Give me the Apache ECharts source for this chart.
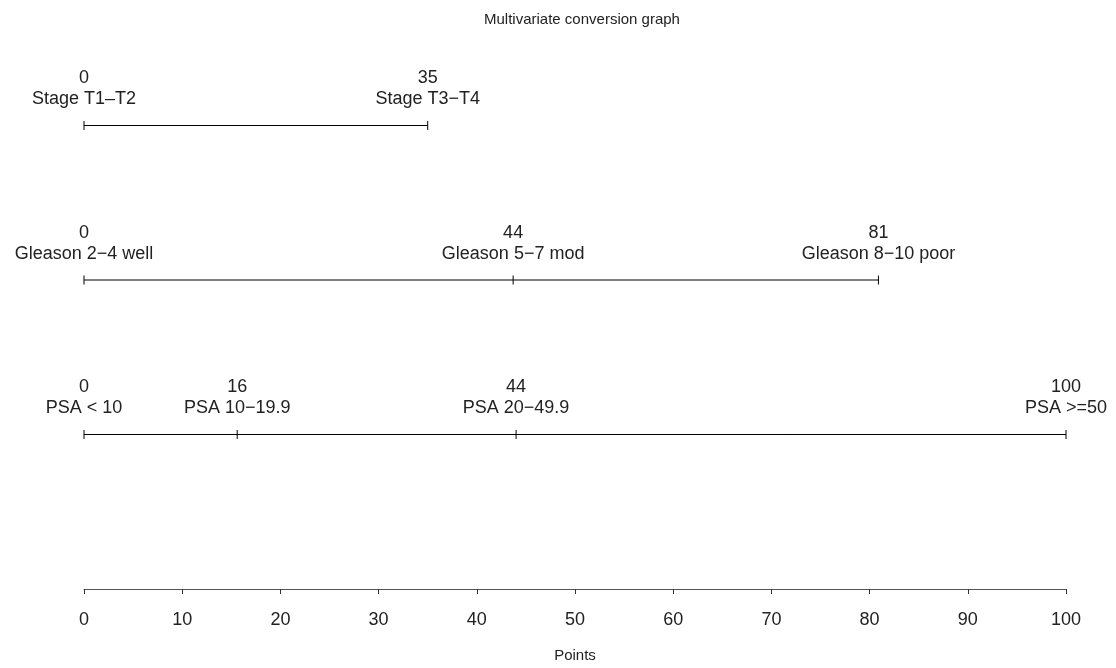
<!DOCTYPE html>
<html>
<head>
<meta charset="utf-8">
<script src="https://cdn.jsdelivr.net/npm/echarts@6/dist/echarts.min.js"></script>
<style>html,body{margin:0;padding:0;background:#fff}#c{width:1116px;height:668px}</style>
</head>
<body>
<div id="c"></div>
<script>
// Row data: tick positions on the points scale, printed point labels, category names
const stagePos = [0, 35];
const stagePoints = ['0', '35'];
const stageNames = ['Stage T1\u2013T2', 'Stage T3\u2212T4'];

const gleasonPos = [0, 43.7, 80.9];
const gleasonPoints = ['0', '44', '81'];
const gleasonNames = ['Gleason 2\u22124 well', 'Gleason 5\u22127 mod', 'Gleason 8\u221210 poor'];

const psaPos = [0, 15.6, 44, 100];
const psaPoints = ['0', '16', '44', '100'];
const psaNames = ['PSA < 10', 'PSA 10\u221219.9', 'PSA 20\u221249.9', 'PSA >=50'];

const rowLevels = [3, 2, 1];
const pointsTicks = [0, 10, 20, 30, 40, 50, 60, 70, 80, 90, 100];

const FONT = 'Liberation Sans, Arial, Helvetica, sans-serif';
const FS = 18;

function rowSeries(pos, pts, names, level) {
  return {
    type: 'line',
    data: pos.map((p, i) => ({ value: [p, level], pt: pts[i], nm: names[i] })),
    showAllSymbol: true,
    symbol: 'rect',
    symbolSize: [1, 9],
    itemStyle: { color: '#000' },
    lineStyle: { color: '#000', width: 1 },
    clip: false,
    animation: false,
    label: {
      show: true,
      position: 'top',
      distance: 11,
      color: '#222',
      fontFamily: FONT,
      formatter: p => '{v|' + p.data.pt + '}\n{c|' + p.data.nm + '}',
      rich: {
        v: { fontSize: FS, lineHeight: 21, fontFamily: FONT, color: '#222', align: 'center' },
        c: { fontSize: FS, lineHeight: 21, fontFamily: FONT, color: '#222', align: 'center' }
      }
    },
    emphasis: { disabled: true }
  };
}

const chart = echarts.init(document.getElementById('c'));
chart.setOption({
  backgroundColor: '#fff',
  animation: false,
  title: {
    text: 'Multivariate conversion graph',
    left: 479,
    top: 7,
    textStyle: { fontSize: 15, fontWeight: 'normal', color: '#222', fontFamily: FONT }
  },
  grid: { left: 84, right: 50, top: 125.5, bottom: 77.5 },
  xAxis: {
    type: 'value',
    min: pointsTicks[0],
    max: pointsTicks[pointsTicks.length - 1],
    interval: 10,
    axisLine: { show: true, lineStyle: { color: '#555', width: 1 } },
    axisTick: { show: true, length: 5, lineStyle: { color: '#333', width: 1 } },
    axisLabel: { margin: 22, fontSize: FS, color: '#222', fontFamily: FONT,
      formatter: v => pointsTicks.includes(v) ? String(v) : '' },
    splitLine: { show: false },
    name: 'Points',
    nameLocation: 'middle',
    nameGap: 59,
    nameTextStyle: { fontSize: 15, color: '#222', fontFamily: FONT }
  },
  yAxis: { type: 'value', min: 0, max: 3, show: false },
  series: [
    rowSeries(stagePos, stagePoints, stageNames, rowLevels[0]),
    rowSeries(gleasonPos, gleasonPoints, gleasonNames, rowLevels[1]),
    rowSeries(psaPos, psaPoints, psaNames, rowLevels[2])
  ]
});
</script>
</body>
</html>
